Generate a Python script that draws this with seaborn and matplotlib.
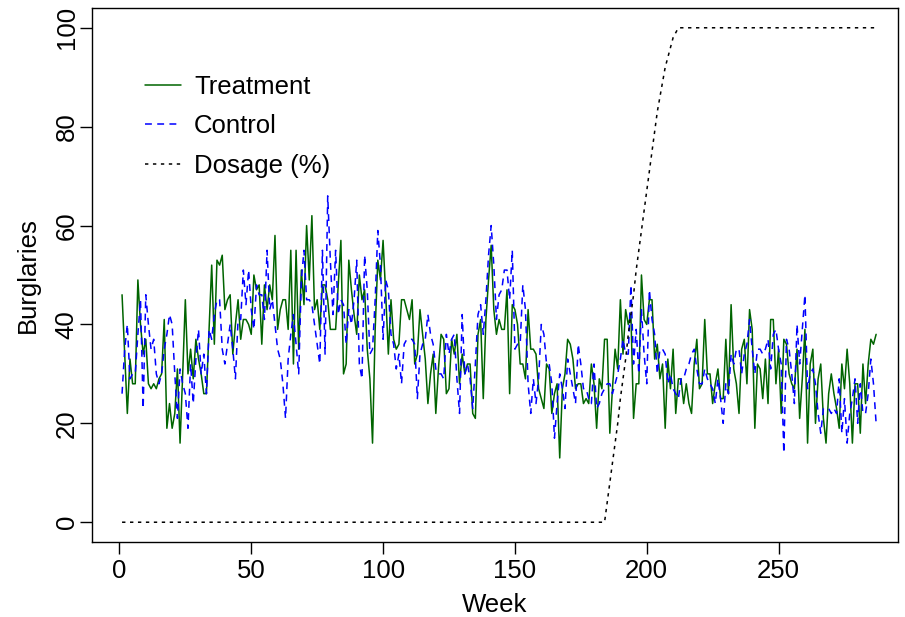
import matplotlib
matplotlib.use("Agg")
import matplotlib.pyplot as plt
import seaborn as sns
import pandas as pd

# weekly burglary counts
treatment = [
    46, 34, 22, 33, 28, 28, 49, 40, 34, 37, 28, 27, 28, 27, 29, 30, 41, 19, 24, 19,
    22, 31, 16, 30, 45, 30, 35,
    29, 37, 33, 30, 26, 26, 39, 52, 36, 53, 52, 54, 43, 45, 46, 34, 40, 45, 37, 41,
    41, 40, 38, 50, 47, 48, 36, 48, 43,
    48, 45, 58, 39, 43, 45, 45, 39, 55, 32, 55, 35, 51, 44, 60, 49, 62, 43, 45, 39,
    48, 48, 45, 39, 39, 39, 48, 57, 30,
    32, 53, 47, 42, 38, 50, 45, 47, 35, 29, 16, 39, 53, 49, 57, 46, 34, 45, 37, 35,
    36, 45, 45, 43, 41, 45, 32, 34,
    43, 38, 33, 24, 30, 34, 22, 31, 38, 37, 26, 27, 37, 34, 38, 28, 34, 30, 32, 32,
    22, 21, 38, 41, 25, 41, 49, 56, 43,
    38, 41, 39, 39, 47, 26, 44, 43, 40, 32, 32, 29, 43, 35, 35, 34, 27, 25, 23, 32,
    31, 22, 26, 28, 13, 27, 30, 37, 36,
    33, 27, 28, 28, 24, 25, 24, 32, 28, 19, 29, 27, 37, 37, 18, 27, 35, 31, 45, 34,
    43, 40, 42, 21, 28, 28, 50, 41,
    40, 45, 45, 33, 36, 29, 32, 19, 33, 27, 35, 22, 29, 29, 24, 28, 24, 22, 32, 37,
    27, 28, 41, 30, 30, 24, 28, 31, 25,
    25, 37, 26, 44, 31, 28, 22, 35, 37, 28, 43, 39, 19, 32, 31, 25, 33, 24, 41, 41,
    28, 35, 22, 37, 36, 30, 28, 27, 35,
    21, 29, 39, 16, 32, 35, 20, 29, 32, 21, 16, 26, 30, 26, 23, 19, 32, 27, 35, 28,
    16, 28, 28, 18, 32, 24, 32, 37, 36, 38,
]

control = [
    26, 35, 40, 29, 30, 30, 38, 45, 23, 46, 40, 35, 37, 30, 28, 30, 35, 38, 42, 40,
    30, 21, 31, 28, 26, 19, 32,
    24, 33, 39, 30, 34, 26, 39, 37, 42, 45, 45, 35, 32, 36, 40, 35, 29, 41, 41, 51,
    44, 51, 43, 39, 48, 46, 46, 41, 55,
    43, 45, 40, 35, 33, 28, 21, 33, 38, 42, 36, 30, 49, 55, 45, 45, 44, 40, 36, 32,
    55, 34, 66, 53, 42, 55, 42, 45, 44,
    36, 43, 40, 45, 53, 32, 29, 54, 47, 34, 35, 45, 59, 52, 37, 49, 47, 38, 36, 31,
    34, 28, 36, 37, 37, 37, 36, 25,
    34, 36, 37, 42, 38, 36, 31, 30, 30, 29, 38, 34, 37, 38, 29, 22, 42, 30, 32, 29,
    23, 32, 42, 44, 38, 45, 54, 60, 52,
    41, 46, 47, 51, 51, 45, 55, 35, 36, 36, 48, 43, 28, 22, 29, 24, 29, 40, 38, 32,
    32, 28, 17, 24, 30, 27, 23, 33, 30,
    27, 24, 36, 32, 27, 27, 25, 24, 32, 23, 24, 26, 27, 28, 28, 26, 28, 30, 33, 37,
    34, 34, 48, 32, 39, 30, 43, 34,
    28, 47, 41, 38, 30, 35, 35, 34, 28, 30, 27, 26, 25, 29, 29, 31, 32, 34, 35, 31,
    28, 28, 31, 29, 28, 27, 24, 29, 25,
    20, 28, 26, 34, 32, 35, 35, 30, 34, 36, 41, 35, 30, 35, 35, 34, 35, 37, 31, 38,
    39, 35, 32, 14, 37, 35, 30, 24, 40,
    32, 39, 46, 27, 30, 31, 28, 22, 18, 23, 23, 23, 22, 23, 22, 29, 18, 25, 16, 22,
    25, 29, 20, 28, 22, 22, 26, 33, 28, 20,
]

dosage_ramp = [4, 8, 12, 16, 20, 25, 29, 33, 38, 42, 46, 51, 55, 59, 63, 67, 71, 75,
               79, 83, 86, 89, 92, 94, 96, 98, 99, 100]
dosage = [0] * 184 + dosage_ramp + [100] * 75

weeks = list(range(1, len(treatment) + 1))
x_ticks = [0, 50, 100, 150, 200, 250]
y_ticks = [0, 20, 40, 60, 80, 100]

df = pd.DataFrame({"Week": weeks, "Treatment": treatment,
                   "Control": control, "Dosage": dosage})

sns.set_style("ticks")
plt.rcParams["font.family"] = ["Liberation Sans", "DejaVu Sans"]
plt.rcParams["text.color"] = "black"
plt.rcParams["axes.labelcolor"] = "black"

FS = 18.5

fig = plt.figure(figsize=(9.05, 6.17), dpi=100)
ax = fig.add_axes([92 / 905, 1 - 542 / 617, 806 / 905, 534 / 617])

sns.lineplot(data=df, x="Week", y="Treatment", color="#006400", lw=1.1,
             ax=ax, label="Treatment")
sns.lineplot(data=df, x="Week", y="Control", color="#0000ff", lw=1.1,
             linestyle=(0, (4.5, 3.5)), ax=ax, label="Control")
sns.lineplot(data=df, x="Week", y="Dosage", color="black", lw=1.1,
             linestyle=(0, (2.2, 3.0)), ax=ax, label="Dosage (%)")

ax.set_xlim(-10.4, 295.3)
ax.set_ylim(-4, 104)
ax.set_xticks(x_ticks)
ax.set_yticks(y_ticks)
ax.set_yticklabels([str(v) for v in y_ticks], rotation=90, va="center")
ax.tick_params(direction="out", length=8.5, width=1, labelsize=FS, color="black",
               labelcolor="black")
ax.tick_params(axis="x", pad=4)
ax.tick_params(axis="y", pad=1)
for sp in ax.spines.values():
    sp.set_visible(True)
    sp.set_color("black")
    sp.set_linewidth(1)

ax.set_xlabel("Week", fontsize=FS, labelpad=7)
ax.set_ylabel("Burglaries", fontsize=FS, labelpad=11)

ax.legend(loc="upper left", bbox_to_anchor=(0.066, 0.875), frameon=False,
          fontsize=FS, handlelength=1.4, labelspacing=0.6, handletextpad=0.5,
          borderaxespad=0, borderpad=0)

fig.savefig("out.png", dpi=100, facecolor="white")
